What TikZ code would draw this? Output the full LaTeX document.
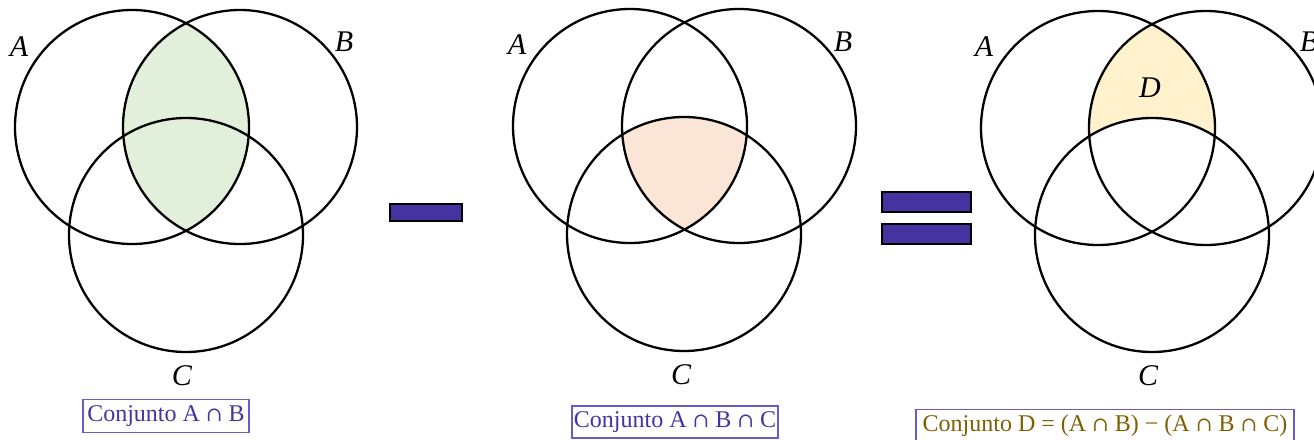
\documentclass[tikz,border=0pt]{standalone}
\usepackage{fontspec}
\setmainfont{Liberation Serif}
\newfontfamily\capfont{DejaVu Serif}
\newcommand{\mycap}{{\capfont\fontsize{20}{20}\selectfont ∩}}
\definecolor{indig}{HTML}{4433A0}
\definecolor{boxedge}{HTML}{6A5BC8}
\definecolor{olive}{HTML}{7F6000}
\definecolor{fgreen}{HTML}{E2EFDA}
\definecolor{fpeach}{HTML}{FBE5D6}
\definecolor{fyellow}{HTML}{FFF2CC}
\tikzset{
  circ/.style={line width=2.3pt},
  setlbl/.style={font=\itshape\fontsize{30}{30}\selectfont, inner sep=0pt},
  boxlbl/.style={draw=boxedge, line width=1.1pt, font=\fontsize{24}{24}\selectfont, inner sep=0pt, text height=16pt, text depth=5pt, align=center},
  opbar/.style={draw=black, line width=2pt, fill=indig}
}
\begin{document}
\begin{tikzpicture}[x=1pt,y=-1pt]
\useasboundingbox (0,0) rectangle (1314,439);
% ---------- diagram 1 ----------
\coordinate (a1) at (132,127);
\coordinate (b1) at (240,127);
\coordinate (c1) at (186,235);
\begin{scope}
  \clip (a1) circle (117pt);
  \fill[fgreen] (b1) circle (117pt);
\end{scope}
\draw[circ] (a1) circle (117pt);
\draw[circ] (b1) circle (117pt);
\draw[circ] (c1) circle (117pt);
\node[setlbl] (la1) at (19,47) {A};
\node[setlbl] (lb1) at (344,42) {B};
\node[setlbl] (lc1) at (182,376) {C};
\node[boxlbl, text=indig, minimum width=166pt, minimum height=33pt] (box1) at (166,416) {Conjunto A \mycap{} B};
% ---------- minus ----------
\node[opbar, minimum width=72pt, minimum height=17pt, inner sep=0pt] (minus) at (426,212.5) {};
% ---------- diagram 2 ----------
\coordinate (a2) at (630,126);
\coordinate (b2) at (739,126);
\coordinate (c2) at (684,234);
\begin{scope}
  \clip (a2) circle (117pt);
  \clip (b2) circle (117pt);
  \fill[fpeach] (c2) circle (117pt);
\end{scope}
\draw[circ] (a2) circle (117pt);
\draw[circ] (b2) circle (117pt);
\draw[circ] (c2) circle (117pt);
\node[setlbl] (la2) at (517,45) {A};
\node[setlbl] (lb2) at (843,42) {B};
\node[setlbl] (lc2) at (681,375) {C};
\node[boxlbl, text=indig, minimum width=206pt, minimum height=32pt] (box2) at (675,422) {Conjunto A \mycap{} B \mycap{} C};
% ---------- equals ----------
\node[opbar, minimum width=89pt, minimum height=20pt, inner sep=0pt] (eqtop) at (926.5,202) {};
\node[opbar, minimum width=89pt, minimum height=20pt, inner sep=0pt] (eqbot) at (926.5,233.5) {};
% ---------- diagram 3 ----------
\coordinate (a3) at (1098,128);
\coordinate (b3) at (1206,128);
\coordinate (c3) at (1152,235);
\begin{scope}
  \clip (a3) circle (117pt);
  \fill[fyellow] (b3) circle (117pt);
  \fill[white] (c3) circle (117pt);
\end{scope}
\draw[circ] (a3) circle (117pt);
\draw[circ] (b3) circle (117pt);
\draw[circ] (c3) circle (117pt);
\node[setlbl] (la3) at (984,47) {A};
\node[setlbl] (lb3) at (1309,42) {B};
\node[setlbl] (ld3) at (1150,88) {D};
\node[setlbl] (lc3) at (1148,376) {C};
\node[boxlbl, text=olive, minimum width=378pt, minimum height=33pt] (box3) at (1105,426) {Conjunto D = (A \mycap{} B) − (A \mycap{} B \mycap{} C)};
\end{tikzpicture}
\end{document}
